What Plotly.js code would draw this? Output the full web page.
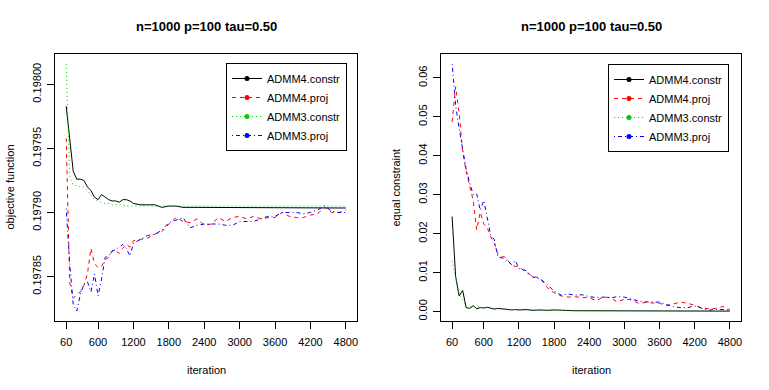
<!DOCTYPE html>
<html>
<head>
<meta charset="utf-8">
<script src="https://cdn.plot.ly/plotly-3.0.1.min.js"></script>
<style>
  html, body { margin: 0; padding: 0; background: #fff; }
  #chart { width: 769px; height: 390px; }
</style>
</head>
<body>
<div id="chart"></div>
<script>
// iterations shared by every series
var iteration = [60, 120, 180, 240, 300, 360, 420, 480, 540, 600, 660, 720, 780, 840, 900, 960, 1020, 1080, 1140, 1200,
	1320, 1440, 1560, 1680, 1800, 1920, 2040, 2160, 2280, 2400, 2520, 2640, 2760, 2880, 3000, 3120, 3240, 3360, 3480, 3600,
	3720, 3840, 3960, 4080, 4200, 4320, 4440, 4560, 4680, 4800];

var seriesNames = ['ADMM4.constr', 'ADMM4.proj', 'ADMM3.constr', 'ADMM3.proj'];
var xTicks = [60, 600, 1200, 1800, 2400, 3000, 3600, 4200, 4800];
var objTicks = [0.19785, 0.19790, 0.19795, 0.19800];
var eqTicks = [0, 0.01, 0.02, 0.03, 0.04, 0.05, 0.06];

// left panel: objective function
var objAdmm4Constr = [0.197983, 0.197955, 0.197932, 0.197926, 0.197926, 0.197925, 0.197920, 0.197917, 0.197912, 0.197910,
	0.197914, 0.197912, 0.197910, 0.197909, 0.197909, 0.197908, 0.197910, 0.197910, 0.197909, 0.197907,
	0.197906, 0.197906, 0.197906, 0.197904, 0.197905, 0.197905, 0.197904, 0.197904, 0.197904, 0.197904,
	0.1979035, 0.1979035, 0.1979035, 0.1979035, 0.1979035, 0.1979035, 0.1979035, 0.1979035, 0.1979035, 0.1979035,
	0.1979035, 0.1979035, 0.1979035, 0.1979035, 0.1979035, 0.1979035, 0.1979035, 0.1979035, 0.1979035, 0.1979035];
var objAdmm4Proj = [0.197958, 0.197845, 0.197833, 0.197836, 0.197838, 0.197843, 0.197852, 0.197872, 0.197860, 0.197857,
	0.197858, 0.197863, 0.197865, 0.197870, 0.197870, 0.197868, 0.197872, 0.197875, 0.197873, 0.197878,
	0.197879, 0.197880, 0.197883, 0.197885, 0.197891, 0.197896, 0.197893, 0.197892, 0.197895, 0.197890,
	0.197891, 0.197896, 0.197893, 0.197896, 0.197897, 0.197895, 0.197897, 0.197895, 0.197896, 0.197896,
	0.197900, 0.197897, 0.197896, 0.197896, 0.197898, 0.197899, 0.197904, 0.197900, 0.197900, 0.197902];
var objAdmm3Constr = [0.198016, 0.197928, 0.197921, 0.197921, 0.197920, 0.197920, 0.197917, 0.197913, 0.197910, 0.197909,
	0.197908, 0.197907, 0.197907, 0.197906, 0.197906, 0.197906, 0.197906, 0.197905, 0.197905, 0.197905,
	0.197905, 0.197905, 0.197905, 0.197905, 0.197905, 0.197905, 0.197905, 0.197905, 0.197905, 0.197905,
	0.197905, 0.197905, 0.197905, 0.197905, 0.197905, 0.197905, 0.197905, 0.197905, 0.197905, 0.197905,
	0.197905, 0.197905, 0.197905, 0.197905, 0.197905, 0.197905, 0.197905, 0.197905, 0.197905, 0.197905];
var objAdmm3Proj = [0.197903, 0.197860, 0.197828, 0.197823, 0.197836, 0.197844, 0.197846, 0.197838, 0.197852, 0.197835,
	0.197848, 0.197865, 0.197866, 0.197870, 0.197871, 0.197873, 0.197875, 0.197872, 0.197866, 0.197876,
	0.197879, 0.197882, 0.197883, 0.197886, 0.197892, 0.197894, 0.197896, 0.197888, 0.197890, 0.197891,
	0.197891, 0.197891, 0.197890, 0.197890, 0.197893, 0.197893, 0.197893, 0.197895, 0.197897, 0.197897,
	0.197900, 0.197900, 0.197900, 0.197899, 0.197900, 0.197902, 0.197905, 0.197901, 0.197900, 0.197900];

// right panel: equal constraint
var eqAdmm4Constr = [0.0244, 0.0090, 0.0040, 0.0054, 0.0010, 0.0008, 0.0015, 0.0007, 0.0010, 0.0009,
	0.0011, 0.0009, 0.0006, 0.0008, 0.0007, 0.0006, 0.0005, 0.0004, 0.0005, 0.0004,
	0.0005, 0.0003, 0.0004, 0.0003, 0.0004, 0.0003, 0.0002, 0.0002, 0.0002, 0.0002,
	0.0001, 0.0001, 0.0001, 0.0001, 0.0001, 0.0001, 0.0001, 0.0001, 0.0001, 0.0001,
	0.0001, 0.0001, 0.0001, 0.0001, 0.0001, 0.0001, 0.0001, 0.0001, 0.0001, 0.0001];
var eqAdmm4Proj = [0.0487, 0.0577, 0.0510, 0.0410, 0.0360, 0.0325, 0.0285, 0.0210, 0.0255, 0.0225,
	0.0215, 0.0192, 0.0175, 0.0148, 0.0141, 0.0140, 0.0128, 0.0118, 0.0116, 0.0115,
	0.0101, 0.0090, 0.0086, 0.0062, 0.0048, 0.0040, 0.0037, 0.0038, 0.0036, 0.0035,
	0.0028, 0.0037, 0.0036, 0.0024, 0.0032, 0.0030, 0.0021, 0.0023, 0.0022, 0.0021,
	0.0015, 0.0019, 0.0024, 0.0021, 0.0016, 0.0009, 0.0007, 0.0008, 0.0013, 0.0004];
var eqAdmm3Constr = [0.0130, 0.0085, 0.0045, 0.0030, 0.0012, 0.0013, 0.0012, 0.0013, 0.0011, 0.0010,
	0.0009, 0.0008, 0.0007, 0.0006, 0.0006, 0.0006, 0.0005, 0.0005, 0.0005, 0.0004,
	0.0004, 0.0004, 0.0003, 0.0003, 0.0003, 0.0003, 0.0002, 0.0002, 0.0002, 0.0002,
	0.0002, 0.0001, 0.0001, 0.0001, 0.0001, 0.0001, 0.0001, 0.0001, 0.0001, 0.0001,
	0.0001, 0.0001, 0.0001, 0.0001, 0.0001, 0.0001, 0.0001, 0.0001, 0.0001, 0.0001];
var eqAdmm3Proj = [0.0636, 0.0530, 0.0470, 0.0415, 0.0365, 0.0330, 0.0300, 0.0302, 0.0260, 0.0285,
	0.0235, 0.0195, 0.0185, 0.0140, 0.0138, 0.0135, 0.0128, 0.0120, 0.0131, 0.0110,
	0.0105, 0.0088, 0.0084, 0.0070, 0.0052, 0.0042, 0.0045, 0.0042, 0.0043, 0.0038,
	0.0036, 0.0037, 0.0035, 0.0038, 0.0037, 0.0032, 0.0027, 0.0025, 0.0024, 0.0024,
	0.0018, 0.0012, 0.0010, 0.0010, 0.0014, 0.0009, 0.0003, 0.0006, 0.0005, 0.0004];

var colors = ['#000000', '#FF0000', '#00CD00', '#0000FF'];
var dashes = ['solid', '4px,4px', '1px,3px', '1px,3px,4px,3px'];
var FONT = 'Liberation Sans, Arial, Helvetica, sans-serif';
var W = 769, H = 390;

// R style axis range: data range padded by 4% each side
function rRange(arrs) {
	var lo = Infinity, hi = -Infinity;
	for (var i = 0; i < arrs.length; i++) {
		for (var j = 0; j < arrs[i].length; j++) {
			lo = Math.min(lo, arrs[i][j]);
			hi = Math.max(hi, arrs[i][j]);
		}
	}
	var pad = (hi - lo) * 0.04;
	return [lo - pad, hi + pad];
}

var objSeries = [objAdmm4Constr, objAdmm4Proj, objAdmm3Constr, objAdmm3Proj];
var eqSeries = [eqAdmm4Constr, eqAdmm4Proj, eqAdmm3Constr, eqAdmm3Proj];

var data = [];
function addPanel(series, xa, ya, legendName) {
	for (var i = 0; i < series.length; i++) {
		data.push({
			x : iteration,
			y : series[i],
			xaxis : xa,
			yaxis : ya,
			type : 'scatter',
			mode : 'lines',
			line : { color : colors[i], width : 1, dash : dashes[i] },
			name : seriesNames[i],
			showlegend : false,
			hoverinfo : 'skip'
		});
	}
	// legend entries (line with a dot, like R's legend)
	for (var i = 0; i < series.length; i++) {
		data.push({
			x : [null],
			y : [null],
			xaxis : xa,
			yaxis : ya,
			type : 'scatter',
			mode : 'lines+markers',
			line : { color : colors[i], width : 1, dash : dashes[i] },
			marker : { color : colors[i], size : 5 },
			name : seriesNames[i],
			legend : legendName
		});
	}
}
addPanel(objSeries, 'x', 'y', 'legend');
addPanel(eqSeries, 'x2', 'y2', 'legend2');

var xRange = rRange([iteration]);
var yDomain = [(H - 321) / H, (H - 54) / H];

function xAxis(domain, anchor) {
	return {
		domain : domain,
		anchor : anchor,
		range : xRange,
		tickvals : xTicks,
		ticktext : xTicks.map(String),
		ticks : 'outside',
		ticklen : 7,
		tickwidth : 1,
		tickcolor : '#000',
		showline : true,
		linecolor : '#000',
		linewidth : 1,
		mirror : true,
		showgrid : false,
		zeroline : false,
		tickfont : { family : FONT, size : 11, color : '#000' },
		ticklabelstandoff : 4
	};
}
function yAxis(anchor, range, ticks, fmt) {
	return {
		domain : yDomain,
		anchor : anchor,
		range : range,
		tickvals : ticks,
		tickformat : fmt,
		tickangle : -90,
		ticks : 'outside',
		ticklen : 7,
		tickwidth : 1,
		tickcolor : '#000',
		showline : true,
		linecolor : '#000',
		linewidth : 1,
		mirror : true,
		showgrid : false,
		zeroline : false,
		tickfont : { family : FONT, size : 11, color : '#000' },
		ticklabelstandoff : 2
	};
}

var leftDom = [55 / W, 357 / W];
var rightDom = [441 / W, 741 / W];

function legendBox(x, y) {
	return {
		x : x,
		y : y,
		xanchor : 'right',
		yanchor : 'top',
		bgcolor : '#fff',
		bordercolor : '#000',
		borderwidth : 1,
		font : { family : FONT, size : 11, color : '#000' },
		itemwidth : 30
	};
}

var mainTitle = '<b>n=1000 p=100 tau=0.50</b>';
var textFont = { family : FONT, size : 11, color : '#000' };

var layout = {
	width : W,
	height : H,
	margin : { l : 0, r : 0, t : 0, b : 0 },
	paper_bgcolor : '#fff',
	plot_bgcolor : '#fff',
	showlegend : true,
	xaxis : xAxis(leftDom, 'y'),
	yaxis : yAxis('x', rRange(objSeries), objTicks, '.5f'),
	xaxis2 : xAxis(rightDom, 'y2'),
	yaxis2 : yAxis('x2', rRange(eqSeries), eqTicks, '.2f'),
	legend : legendBox(347 / W, (H - 63) / H),
	legend2 : legendBox(729 / W, (H - 64) / H),
	annotations : [
		{ text : mainTitle, xref : 'paper', yref : 'paper', x : (leftDom[0] + leftDom[1]) / 2, y : (H - 27) / H,
			showarrow : false, xanchor : 'center', yanchor : 'middle', font : { family : FONT, size : 13, color : '#000' } },
		{ text : mainTitle, xref : 'paper', yref : 'paper', x : (rightDom[0] + rightDom[1]) / 2, y : (H - 27) / H,
			showarrow : false, xanchor : 'center', yanchor : 'middle', font : { family : FONT, size : 13, color : '#000' } },
		{ text : 'iteration', xref : 'paper', yref : 'paper', x : (leftDom[0] + leftDom[1]) / 2, y : (H - 370) / H,
			showarrow : false, xanchor : 'center', yanchor : 'middle', font : textFont },
		{ text : 'iteration', xref : 'paper', yref : 'paper', x : (rightDom[0] + rightDom[1]) / 2, y : (H - 370) / H,
			showarrow : false, xanchor : 'center', yanchor : 'middle', font : textFont },
		{ text : 'objective function', xref : 'paper', yref : 'paper', x : 10 / W, y : (yDomain[0] + yDomain[1]) / 2,
			showarrow : false, xanchor : 'center', yanchor : 'middle', textangle : -90, font : textFont },
		{ text : 'equal constraint', xref : 'paper', yref : 'paper', x : 396 / W, y : (yDomain[0] + yDomain[1]) / 2,
			showarrow : false, xanchor : 'center', yanchor : 'middle', textangle : -90, font : textFont }
	]
};

Plotly.newPlot('chart', data, layout, { displayModeBar : false, staticPlot : true });
</script>
</body>
</html>
